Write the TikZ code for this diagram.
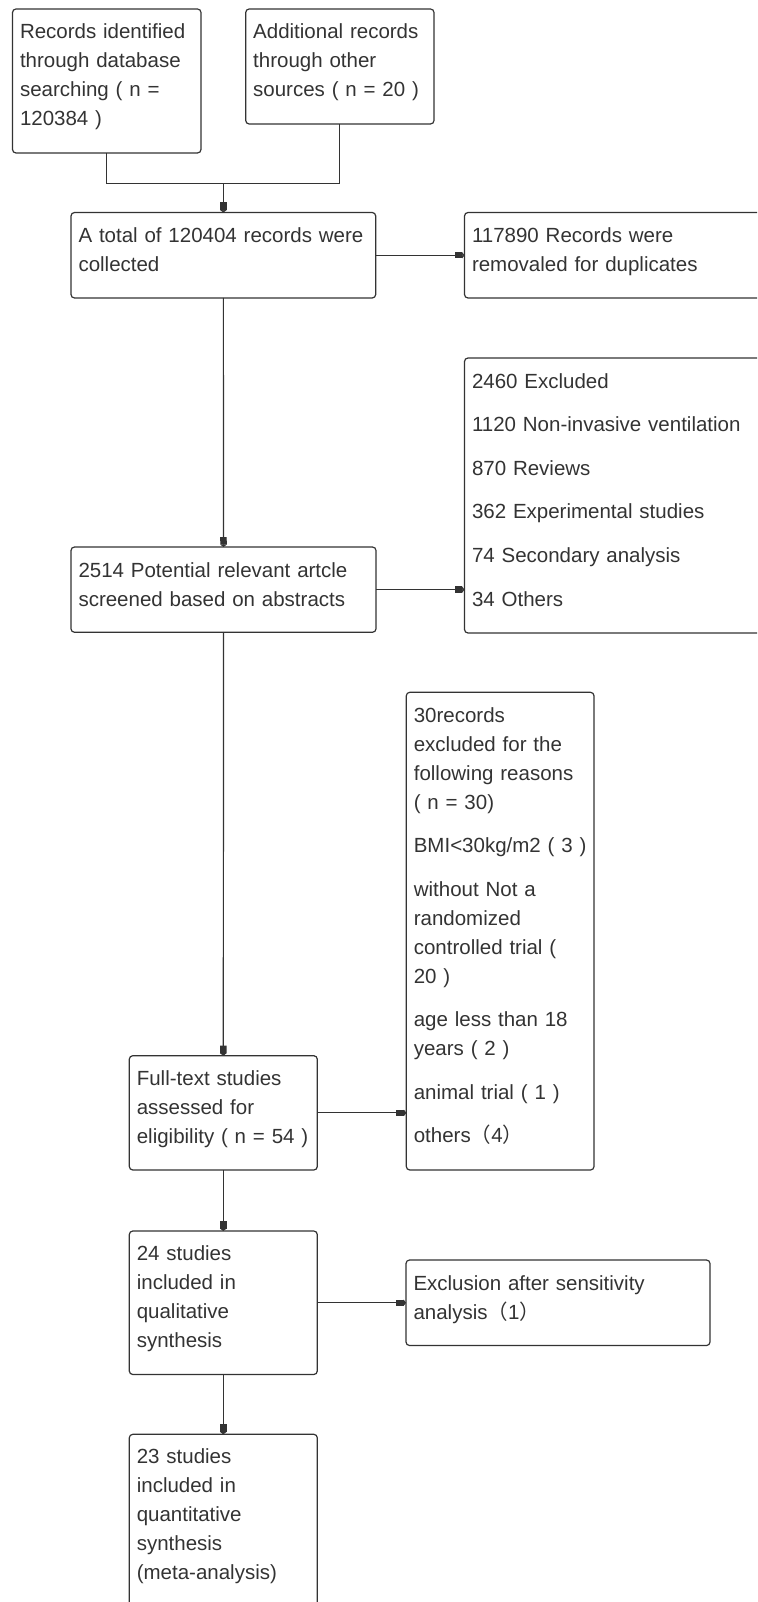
\documentclass[tikz,border=0pt]{standalone}
\usepackage{fontspec}
\setmainfont{Liberation Sans}
\newfontfamily\cjkf{Noto Sans CJK SC}
\usetikzlibrary{arrows.meta}
\definecolor{ink}{HTML}{333333}
\begin{document}
\begin{tikzpicture}[x=1pt,y=-1pt,
  box/.style={draw=ink, line width=1.2pt, rounded corners=3.5pt, anchor=north west, inner sep=0pt, outer sep=0pt},
  txt/.style={text=ink, anchor=base west, inner sep=0pt, text width=400pt, align=left, font=\fontsize{20.5}{29}\selectfont},
  ln/.style={draw=ink, line width=1.2pt},
  arr/.style={ln, -{Rectangle[length=7.5pt,width=6.5pt]Triangle[length=2.5pt,width=6.5pt]}}]
\useasboundingbox (0,0) rectangle (757,1602);
\clip (0,0) rectangle (757,1602);
% boxes
\node[box, minimum width=188.5pt, minimum height=144pt] (b1) at (12.5,9) {};
\node[box, minimum width=188.3pt, minimum height=115pt] (b2) at (245.7,9) {};
\node[box, minimum width=304.7pt, minimum height=85.5pt] (b3) at (71,212.5) {};
\node[box, minimum width=330pt, minimum height=85.5pt] (b4) at (464.5,212.5) {};
\node[box, minimum width=330pt, minimum height=275pt] (b5) at (464.5,358) {};
\node[box, minimum width=305pt, minimum height=85.3pt] (b6) at (71,547) {};
\node[box, minimum width=187.7pt, minimum height=477.7pt] (b7) at (406.3,692.3) {};
\node[box, minimum width=188pt, minimum height=114.3pt] (b8) at (129.3,1055.7) {};
\node[box, minimum width=188pt, minimum height=143.5pt] (b9) at (129.3,1231) {};
\node[box, minimum width=304pt, minimum height=85.5pt] (b10) at (406,1260) {};
\node[box, minimum width=188pt, minimum height=250pt] (b11) at (129.3,1434.3) {};
% texts
\node[txt] (t1) at ([shift={(7.3pt,-30pt)}]b1.north west) {Records identified\\through database\\searching ( n =\\120384 )};
\node[txt] (t2) at ([shift={(7.3pt,-30pt)}]b2.north west) {Additional records\\through other\\sources ( n = 20 )};
\node[txt] (t3) at ([shift={(7.3pt,-30pt)}]b3.north west) {A total of 120404 records were\\collected};
\node[txt] (t4) at ([shift={(7.3pt,-30pt)}]b4.north west) {117890 Records were\\removaled for duplicates};
\node[txt] (t5) at ([shift={(7.3pt,-30pt)}]b5.north west) {2460 Excluded\\[14.6pt]1120 Non-invasive ventilation\\[14.6pt]870 Reviews\\[14.6pt]362 Experimental studies\\[14.6pt]74 Secondary analysis\\[14.6pt]34 Others};
\node[txt] (t6) at ([shift={(7.3pt,-30pt)}]b6.north west) {2514 Potential relevant artcle\\screened based on abstracts};
\node[txt] (t7) at ([shift={(7.3pt,-30pt)}]b7.north west) {30records\\excluded for the\\following reasons\\( n = 30)\\[14.5pt]BMI<30kg/m2 ( 3 )\\[14.5pt]without Not a\\randomized\\controlled trial (\\20 )\\[14.5pt]age less than 18\\years ( 2 )\\[14.5pt]animal trial ( 1 )\\[14.5pt]others{\cjkf （}4{\cjkf ）}};
\node[txt] (t8) at ([shift={(7.3pt,-30pt)}]b8.north west) {Full-text studies\\assessed for\\eligibility ( n = 54 )};
\node[txt] (t9) at ([shift={(7.3pt,-29pt)}]b9.north west) {24 studies\\included in\\qualitative\\synthesis};
\node[txt] (t10) at ([shift={(7.3pt,-30pt)}]b10.north west) {Exclusion after sensitivity\\analysis{\cjkf （}1{\cjkf ）}};
\node[txt] (t11) at ([shift={(7.3pt,-29pt)}]b11.north west) {23 studies\\included in\\quantitative\\synthesis\\(meta-analysis)};
% connectors
\coordinate (jy) at (0,183.5);
\draw[ln] (b1.south) -- (b1.south |- jy) -- (b2.south |- jy) -- (b2.south);
\draw[arr] (b3.north |- jy) -- (b3.north);
\draw[arr] (b3.east) -- (b4.west |- b3.east);
\draw[arr] (b3.south) -- (b6.north);
\draw[arr] (b6.east) -- (b5.west |- b6.east);
\draw[arr] (b6.south) -- (b8.north);
\draw[arr] (b8.east) -- (b7.west |- b8.east);
\draw[arr] (b8.south) -- (b9.north);
\draw[arr] (b9.east) -- (b10.west |- b9.east);
\draw[arr] (b9.south) -- (b11.north);
\end{tikzpicture}
\end{document}
